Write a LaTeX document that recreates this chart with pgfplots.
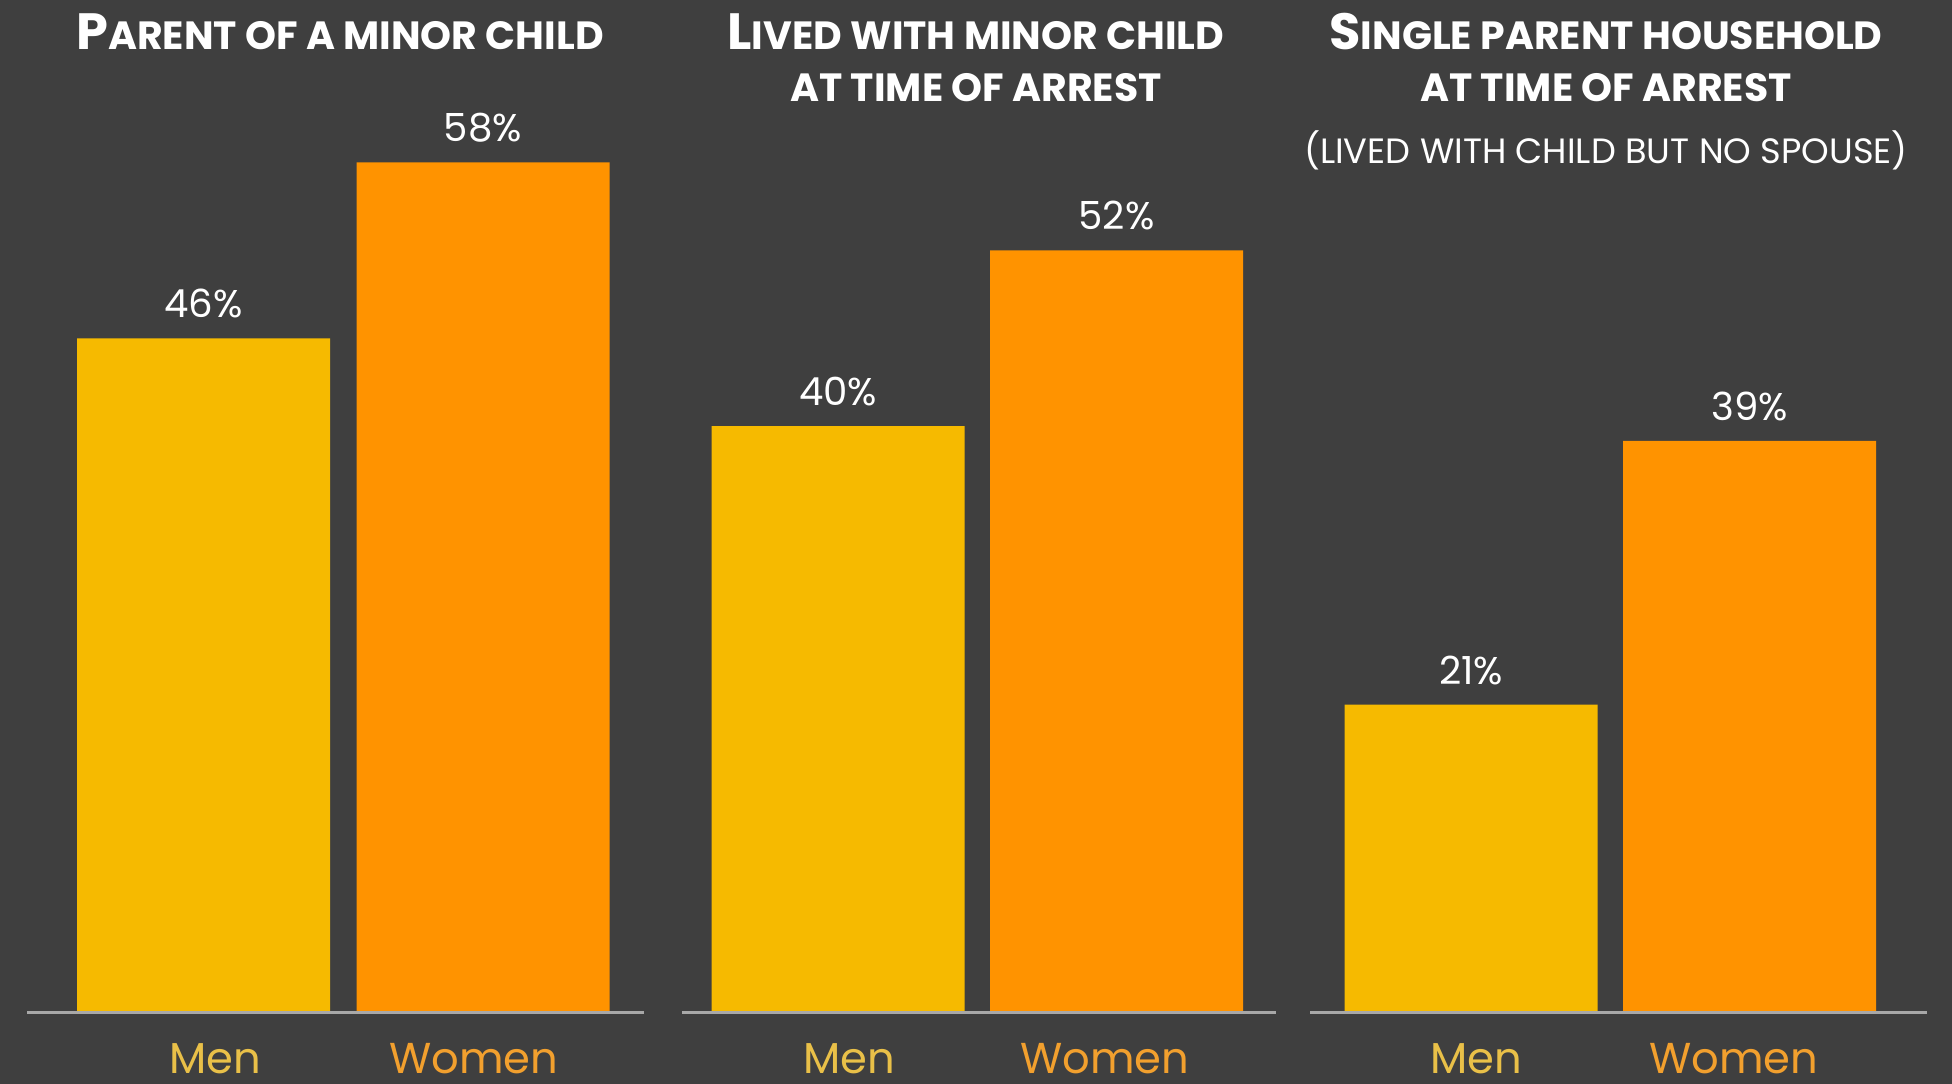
\documentclass[border=0pt]{standalone}
\usepackage{pgfplots}
\pgfplotsset{compat=1.18}
\usepackage{fontspec}
\setmainfont{Poppins}
\definecolor{bg}{HTML}{3F3F3F}
\definecolor{menbar}{HTML}{F6BA00}
\definecolor{womenbar}{HTML}{FF9300}
\definecolor{menlab}{HTML}{E9C048}
\definecolor{womenlab}{HTML}{F2A02E}
\definecolor{base}{HTML}{A8A8A8}
\newcommand{\BC}[1]{{\fontsize{14.5}{16}\selectfont #1}}
\newcommand{\SM}[1]{{\fontsize{11.2}{13}\selectfont #1}}
\newcommand{\SMR}[1]{{\fontsize{10}{12}\selectfont #1}}
\begin{document}
\begin{tikzpicture}
\begin{axis}[
  x=0.01cm, y=0.1465cm,
  xmin=0, xmax=1952, ymin=-4.846, ymax=69.078,
  axis line style={draw=none}, tick style={draw=none}, ytick=\empty,
  xtick={215,474,849,1105,1476,1734},
  xticklabels={\textcolor{menlab}{Men},\textcolor{womenlab}{Women},\textcolor{menlab}{Men},\textcolor{womenlab}{Women},\textcolor{menlab}{Men},\textcolor{womenlab}{Women}},
  xticklabel style={anchor=base, inner sep=0pt, yshift=0.1cm, font=\fontsize{12.3}{14}\selectfont},
  axis background/.style={fill=bg},
  clip=false,
  bar width=253,
  /pgf/number format/assume math mode=true,
]
\addplot[ybar, bar shift=0pt, fill=menbar, draw=none,
  nodes near coords={\pgfmathprintnumber{\pgfplotspointmeta}\%},
  every node near coord/.append style={text=white, anchor=base, yshift=0.205cm, inner sep=0pt, font=\fontsize{11}{13}\selectfont}]
  coordinates {(203.5,46) (838,40) (1471,21)};
\addplot[ybar, bar shift=0pt, fill=womenbar, draw=none,
  nodes near coords={\pgfmathprintnumber{\pgfplotspointmeta}\%},
  every node near coord/.append style={text=white, anchor=base, yshift=0.205cm, inner sep=0pt, font=\fontsize{11}{13}\selectfont}]
  coordinates {(483,58) (1116.5,52) (1749.5,39)};
\addplot[base, line width=0.03cm, forget plot] coordinates {(27,0) (644,0)};
\addplot[base, line width=0.03cm, forget plot] coordinates {(682,0) (1276,0)};
\addplot[base, line width=0.03cm, forget plot] coordinates {(1310,0) (1927,0)};
\node[text=white, font=\bfseries, anchor=base] at (axis cs:340,65.67) {\BC{P}\SM{ARENT OF A MINOR CHILD}};
\node[text=white, font=\bfseries, anchor=base] at (axis cs:976,65.67) {\BC{L}\SM{IVED WITH MINOR CHILD}};
\node[text=white, font=\bfseries, anchor=base] at (axis cs:976,62.12) {\SM{AT TIME OF ARREST}};
\node[text=white, font=\bfseries, anchor=base] at (axis cs:1606,65.67) {\BC{S}\SM{INGLE PARENT HOUSEHOLD}};
\node[text=white, font=\bfseries, anchor=base] at (axis cs:1606,62.12) {\SM{AT TIME OF ARREST}};
\node[text=white, anchor=base] at (axis cs:1606,57.95) {\SMR{(LIVED WITH CHILD BUT NO SPOUSE)}};
\end{axis}
\end{tikzpicture}
\end{document}
